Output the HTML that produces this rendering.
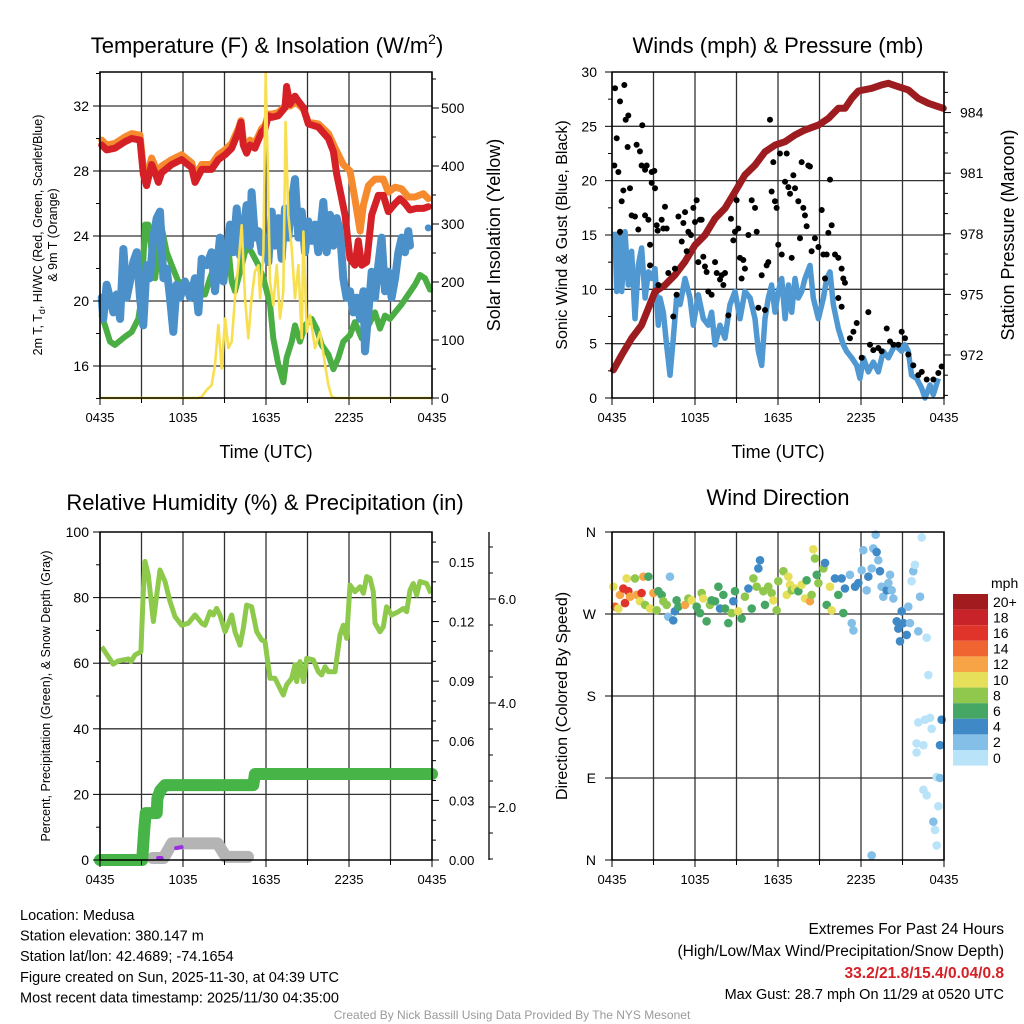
<!DOCTYPE html>
<html><head><meta charset="utf-8">
<style>
html,body{margin:0;padding:0;background:#fff;}
svg{display:block;font-family:"Liberation Sans",Arial,sans-serif;}
</style></head>
<body>
<svg id="root" width="1024" height="1024" viewBox="0 0 1024 1024" xmlns="http://www.w3.org/2000/svg">
<g id="layer"></g>
</svg>
<script>
// ---------- Panel 1 data ----------
const redHours=[0.12,0.48,1.08,1.81,2.29,2.89,3.13,3.37,3.73,3.98,4.22,4.46,5.18,5.90,6.63,6.87,7.35,8.07,8.55,9.04,9.52,10.0,10.19,10.36,10.60,10.84,11.20,11.69,11.93,12.17,12.41,12.89,13.37,13.49,13.73,14.10,14.34,14.70,15.06,15.78,16.51,16.87,17.11,17.47,17.71,18.07,18.43,18.67,18.92,19.28,19.64,20.12,20.48,20.84,21.33,21.69,22.05,22.41,22.89,23.37,23.73];
const redTemps=[29.6,29.3,29.4,29.8,30.0,29.9,27.8,27.1,28.4,27.9,27.3,27.9,28.4,28.7,28.2,27.3,28.1,28.1,28.7,29.0,29.4,30.4,31.0,29.6,29.1,29.6,29.4,30.4,30.6,31.4,31.3,31.4,31.9,33.2,32.1,32.6,32.3,31.9,30.9,30.7,30.0,29.2,27.8,26.3,25.3,22.6,22.2,23.7,22.2,22.4,25.3,26.5,26.5,25.5,26.0,26.3,26.0,25.6,25.7,25.7,25.8];
const orangeHours=[0.12,0.48,1.08,1.81,2.29,2.89,3.13,3.37,3.73,3.98,4.22,4.46,5.18,5.90,6.63,6.87,7.35,8.07,8.55,9.04,9.52,10.0,10.19,10.36,10.60,10.84,11.20,11.69,11.93,12.17,12.41,12.89,13.37,13.73,14.10,14.34,14.70,15.06,15.78,16.51,17.0,17.59,18.07,18.43,18.80,19.04,19.40,19.88,20.48,20.84,21.33,21.81,22.29,22.77,23.37,23.73];
const orangeTemps=[29.9,29.6,29.7,30.1,30.3,30.2,28.2,27.6,28.8,28.3,27.8,28.3,28.7,29.0,28.5,27.7,28.4,28.4,29.0,29.3,29.7,30.6,31.1,29.9,29.4,29.9,29.7,30.6,30.8,31.5,31.5,31.6,32.0,32.0,32.2,32.1,31.8,31.0,30.9,30.3,29.4,28.4,28.0,26.3,24.3,25.9,27.1,27.5,27.5,26.7,27.0,26.9,26.4,26.4,26.6,26.3];
const dewHours=[0.12,0.36,0.72,1.08,1.81,2.29,2.77,3.01,3.25,3.49,3.73,3.98,4.22,4.46,4.82,5.18,5.66,6.39,7.11,7.59,7.95,8.31,8.80,9.28,9.52,9.76,10.24,10.60,10.96,11.45,11.81,12.05,12.29,12.53,12.89,13.25,13.49,13.86,14.10,14.46,14.82,15.30,15.66,16.02,16.51,16.87,17.23,17.59,18.07,18.43,18.92,19.40,19.88,20.24,20.60,20.96,21.33,21.81,22.29,22.77,23.13,23.49,23.86];
const dewTemps=[19.1,18.5,17.5,17.3,17.8,18.1,18.9,20.2,24.7,24.7,23.0,21.4,23.0,24.5,23.0,22.2,21.2,21.0,20.4,20.4,21.4,22.2,22.6,23.2,21.2,20.6,22.2,23.4,23.0,22.2,21.4,20.6,19.8,17.7,16.1,15.0,16.5,17.5,18.5,17.5,18.5,18.9,18.3,17.3,16.7,15.8,16.5,17.5,17.9,18.7,17.7,18.5,19.3,18.3,19.1,18.9,19.3,19.8,20.4,21.0,21.6,21.4,20.7];
const chillHours=[0.12,0.24,0.48,0.72,0.96,1.2,1.45,1.69,1.93,2.17,2.41,2.65,2.89,3.13,3.37,3.61,3.86,4.10,4.34,4.58,4.82,5.06,5.30,5.54,5.78,6.14,6.51,6.87,7.11,7.35,7.71,8.07,8.31,8.67,8.92,9.16,9.40,9.64,9.88,10.12,10.36,10.60,10.84,10.96,11.20,11.45,11.69,11.93,12.17,12.41,12.65,12.89,13.13,13.37,13.61,13.86,14.10,14.34,14.58,14.82,15.06,15.30,15.54,15.78,16.14,16.39,16.63,16.87,17.11,17.35,17.59,17.83,18.07,18.31,18.55,18.80,19.04,19.16,19.40,19.64,19.88,20.12,20.36,20.60,20.84,21.08,21.33,21.57,21.81,22.05,22.29,22.41,22.6,23.73];
const chillTemps=[20.2,18.9,21.0,20.2,19.3,20.4,18.9,23.2,20.2,21.2,22.4,23.0,20.2,18.5,22.2,21.4,23.9,25.1,25.5,21.4,22.0,20.2,18.1,21.0,20.2,21.2,20.2,21.4,19.3,22.6,22.2,23.0,20.6,23.9,21.2,23.0,24.7,23.0,25.7,22.8,24.3,25.9,23.4,26.7,23.9,24.3,23.0,23.9,22.4,25.5,23.4,25.1,22.6,25.7,23.9,26.1,27.5,23.9,25.5,23.0,24.9,23.7,24.7,23.0,26.1,23.0,25.3,23.4,25.1,24.3,21.4,20.2,20.6,19.3,20.2,18.9,20.6,16.9,19.3,21.8,20.2,22.2,23.9,20.6,21.8,20.2,21.4,23.0,23.9,23.0,24.3,23.4,null,24.5];
const solarHours=[0,7.11,7.35,7.71,8.07,8.31,8.55,8.80,9.04,9.28,9.52,9.76,10.0,10.24,10.48,10.72,10.96,11.20,11.45,11.57,11.81,11.98,12.12,12.29,12.53,12.77,13.01,13.25,13.42,13.61,13.86,14.10,14.34,14.58,14.70,14.94,15.18,15.54,15.90,16.27,16.51,16.75,16.99,24];
const solarValues=[0,0,2,14,22,57,126,51,137,86,97,172,229,298,172,103,172,218,229,172,252,560,402,201,160,229,137,183,476,316,258,172,229,103,287,114,143,86,114,57,22,2,0,0];
const tempTicks=[16,20,24,28,32];
const solarTicks=[0,100,200,300,400,500];
const timeLabels=["0435","1035","1635","2235","0435"];

// ---------- Panel 2 data ----------
const presHours=[0.10,0.70,1.42,2.14,3.11,3.83,4.55,5.28,6.0,6.72,7.45,8.17,8.89,9.61,10.34,11.06,11.78,12.51,13.23,13.95,14.92,15.64,16.36,16.84,17.33,17.81,18.77,19.49,19.98,20.70,21.42,22.14,22.87,23.59,23.95];
const presValues=[971.26,972.0,972.82,973.48,975.13,975.46,975.96,976.62,977.44,977.94,978.76,979.26,980.08,980.91,981.4,982.06,982.39,982.56,982.89,983.14,983.38,983.71,984.21,984.21,984.7,985.07,985.2,985.37,985.45,985.28,985.12,984.7,984.46,984.29,984.21];
const windHours=[0.22,0.34,0.58,0.70,0.94,1.18,1.42,1.66,1.90,2.14,2.39,2.63,2.87,3.11,3.35,3.47,3.71,3.95,4.19,4.43,4.67,4.92,5.28,5.64,5.88,6.24,6.60,6.96,7.20,7.45,7.81,8.17,8.53,8.89,9.25,9.61,9.98,10.34,10.58,10.82,11.06,11.30,11.54,11.78,12.02,12.27,12.51,12.75,12.99,13.23,13.47,13.71,13.95,14.31,14.55,14.92,15.28,15.52,15.76,16.00,16.36,16.72,16.96,17.33,17.69,17.93,18.17,18.53,18.89,19.25,19.61,19.98,20.46,20.94,21.18,21.42,21.66,22.02,22.39,22.63,22.99,23.23,23.59];
const windValues=[15.3,9.8,14.7,9.8,15.3,10.4,13.5,7.3,12.2,13.8,9.2,11.6,11.0,11.9,6.7,9.2,7.9,4.9,2.1,5.5,9.2,8.6,11.0,9.2,6.7,9.5,7.3,6.7,7.9,4.9,6.7,5.5,8.6,9.8,7.3,9.8,9.2,7.3,4.3,3.0,7.3,9.2,10.4,7.9,9.8,11.0,7.3,10.4,7.9,11.0,9.2,9.8,11.0,12.2,9.2,7.3,9.2,11.0,11.6,8.6,6.4,4.9,4.3,3.7,3.0,1.8,3.7,2.4,3.3,2.4,4.3,3.7,4.9,4.3,4.9,4.3,2.1,1.8,0.9,0.0,1.2,0.3,1.8];
const gustHours=[0.22,0.34,0.17,0.46,0.58,0.89,0.99,1.18,1.13,0.82,1.30,0.70,0.58,1.42,1.66,1.78,1.90,2.02,2.14,2.19,2.39,2.51,2.75,2.39,2.63,2.87,3.06,2.87,3.11,2.75,3.23,3.30,3.35,3.59,3.71,3.83,3.95,4.07,4.43,4.55,4.67,4.80,5.04,5.16,5.28,5.40,5.52,5.71,5.88,6.0,6.12,6.24,6.36,6.48,6.60,6.72,6.84,6.96,7.20,7.45,7.57,7.81,7.93,8.05,8.17,8.41,8.60,8.77,8.89,9.01,9.13,9.25,9.37,9.49,9.61,9.86,10.10,10.34,10.46,10.58,10.82,11.06,11.18,11.30,11.42,11.54,11.66,11.78,11.90,12.02,12.14,12.27,12.51,12.63,12.75,12.87,12.99,13.11,13.23,13.47,13.59,13.71,13.83,13.95,14.07,14.19,14.31,14.43,14.67,14.92,15.16,15.28,15.40,15.52,15.64,15.76,15.88,16.12,16.36,16.60,16.72,16.84,16.36,16.60,17.20,17.45,17.69,18.05,18.53,18.65,18.89,19.25,19.49,19.86,20.10,20.34,20.70,20.94,21.18,21.42,21.78,22.14,22.39,22.75,23.23,23.59,23.83];
const gustValues=[28.5,23.9,21.4,20.8,27.3,28.8,25.6,26.0,23.1,19.1,19.3,18.1,15.3,16.8,16.7,23.3,15.5,22.7,21.4,25.1,21.0,21.4,12.2,16.8,16.4,20.8,20.9,19.8,19.3,14.1,15.9,15.4,10.4,16.4,15.6,17.6,15.6,11.5,7.5,11.9,9.5,16.7,14.4,16.1,17.1,13.5,15.3,15.0,17.5,16.2,18.2,12.5,16.4,16.4,13.0,12.1,11.6,9.8,9.5,12.5,11.5,10.9,11.3,10.4,11.5,7.6,16.5,14.5,15.3,18.2,15.6,12.9,11.0,12.7,11.9,15.0,18.2,17.5,15.3,8.3,11.3,8.1,12.2,12.5,25.6,19.0,21.7,18.1,17.5,14.1,22.5,13.2,19.9,22.5,19.4,18.8,12.9,20.5,19.3,18.1,14.7,21.7,17.5,16.8,15.8,21.4,21.3,13.5,14.7,13.9,17.3,13.2,11.0,13.2,15.2,20.1,15.9,13.2,12.9,11.9,11.0,10.6,9.2,8.4,5.5,6.1,6.9,3.7,7.9,4.9,4.4,4.6,4.3,6.4,5.2,4.9,4.9,6.1,5.5,4.0,3.0,2.1,2.4,1.7,1.7,2.3,2.9];
const windTicks=[0,5,10,15,20,25,30];
const presTicks=[972,975,978,981,984];

// ---------- Panel 3 data ----------
const rhHours=[0.12,0.60,0.96,1.33,2.05,2.24,2.53,2.96,3.13,3.25,3.49,3.86,4.10,4.34,4.70,5.06,5.42,5.90,6.39,6.87,7.35,7.59,7.95,8.19,8.43,8.67,9.04,9.52,9.76,10.12,10.36,10.60,10.96,11.33,11.69,11.93,12.29,12.65,13.01,13.25,13.49,13.86,14.10,14.22,14.46,14.70,14.94,15.42,15.78,16.02,16.27,16.51,16.99,17.35,17.59,17.83,18.07,18.43,18.80,19.04,19.28,19.52,19.76,19.88,20.24,20.48,20.72,21.08,21.57,21.93,22.17,22.41,22.65,22.89,23.13,23.61,23.93];
const rhValues=[65.0,62.0,59.7,60.7,61.3,60.5,62.5,63.5,81.8,91.0,86.9,72.7,80.8,88.4,84.9,78.8,74.2,71.6,72.2,74.7,72.2,71.6,75.7,74.7,76.7,74.7,69.6,74.7,69.6,65.5,70.6,77.7,77.2,69.6,67.1,66.6,55.4,55.4,52.3,50.3,53.4,55.4,59.5,54.4,60.5,54.4,61.5,61.0,57.4,56.4,58.9,57.4,57.4,68.6,71.6,67.6,83.8,81.8,83.3,81.3,86.4,85.9,81.8,72.2,69.6,71.1,77.2,74.7,75.7,76.7,75.7,82.3,84.3,80.8,84.9,84.3,81.3];
const precipHours=[0,3.05,3.13,3.2,3.3,4.1,4.15,4.35,4.7,11.08,11.2,24];
const precipValues=[0,0,0.0084,0.0156,0.0236,0.0236,0.031,0.035,0.0377,0.0377,0.0433,0.0433];
const snowHours=[3.8,4.6,5.2,8.5,9.1,9.6,10.7];
const snowValues=[1.02,1.02,1.3,1.3,1.04,1.04,1.04];
const purpleHours=[4.2,4.45,5.5,5.9];
const purpleValues=[0.001,0.001,0.006,0.0065];
const rhTicks=[0,20,40,60,80,100];
const precipTicks=[0.00,0.03,0.06,0.09,0.12,0.15];
const snowTicks=[2.0,4.0,6.0];

// ---------- Panel 4 data ----------
const dirHours=[0.22,0.10,0.46,0.58,0.82,0.94,1.06,1.18,1.30,1.66,1.78,2.02,2.14,2.27,2.63,2.39,2.75,2.99,3.23,3.35,3.59,3.71,3.95,4.07,4.19,4.43,4.55,4.67,4.80,5.28,5.52,5.76,6.12,6.36,6.48,6.60,6.84,7.08,7.20,7.45,7.69,7.81,8.05,8.17,8.41,8.65,8.77,8.89,9.13,9.37,9.61,9.86,10.10,10.22,10.46,10.58,10.70,10.94,11.06,11.30,11.54,11.66,11.90,12.02,12.39,12.63,12.75,12.87,12.99,13.23,13.47,13.71,13.95,14.07,14.31,14.43,14.55,14.67,14.80,14.92,15.28,15.40,15.52,15.76,15.88,16.12,16.36,16.60,16.72,16.84,17.20,17.33,17.45,17.57,17.81,18.05,18.17,18.41,18.53,18.77,18.89,19.06,19.13,19.25,19.37,19.49,19.61,19.86,19.98,20.10,20.22,20.34,20.58,20.70,20.82,20.94,21.06,21.30,21.42,21.54,21.66,21.78,21.90,22.14,22.27,22.39,22.75,22.87,22.14,22.63,22.99,23.11,23.83,22.02,22.51,22.02,23.71,23.47,23.71,22.51,22.75,23.59,23.23,23.35,23.47,18.77];
const dirValues=[278,300,276,291,298,282,309,295,289,309,291,284,293,311,311,280,276,293,274,295,291,284,280,267,311,263,273,285,278,280,287,285,278,271,293,287,262,280,285,284,300,276,291,276,260,271,284,295,273,265,289,298,276,309,300,320,329,295,280,300,293,285,274,306,317,291,311,302,296,298,295,302,287,307,284,291,341,331,313,304,320,326,280,300,274,309,291,309,271,298,313,260,252,300,304,318,340,296,311,320,342,357,338,329,317,300,289,296,304,313,296,287,262,254,240,273,260,247,278,260,306,317,324,251,289,354,244,203,151,154,156,144,154,128,126,118,126,91,90,77,71,59,42,33,16,5];
const dirSpeeds=[14,10,10,12,16,16,10,16,12,8,12,10,16,12,6,8,10,12,8,6,6,8,8,2,2,4,4,6,6,12,8,10,6,6,8,10,6,8,6,6,6,4,6,6,6,8,4,6,10,6,8,4,6,8,8,4,4,8,6,8,8,10,8,8,8,10,10,10,8,10,6,10,10,6,12,8,10,8,6,8,8,4,6,10,10,4,6,4,6,4,2,2,2,4,4,2,2,2,4,2,2,2,4,2,4,2,2,4,2,2,2,2,4,4,4,4,4,4,2,2,0,2,0,2,2,0,0,0,0,0,0,0,4,0,0,0,4,0,2,0,0,0,2,0,0,2];
const dirTickLabels=["N","W","S","E","N"];
const dirTickValues=[360,270,180,90,0];
const speedBins=["20+","18","16","14","12","10","8","6","4","2","0"];
const speedColors=["#a11b1f","#c9232a","#e0342b","#ef6430","#f6a446","#e6df5a","#8fc84c","#46a764","#3f89c6","#84bfe7","#b9e3f8"];

// ---------- helpers ----------
const NS="http://www.w3.org/2000/svg";
const root=document.getElementById('layer');
function mk(tag,attrs,parent){const e=document.createElementNS(NS,tag);for(const k in attrs)e.setAttribute(k,attrs[k]);(parent||root).appendChild(e);return e;}
function txt(s,x,y,size,anchor,parent,extra){const e=mk('text',Object.assign({x:x,y:y,'font-size':size,'text-anchor':anchor||'middle',fill:'#000'},extra||{}),parent);e.textContent=s;return e;}
function pathFrom(hs,vs,xf,yf){let d='',pen=false;for(let i=0;i<hs.length;i++){if(vs[i]===null||vs[i]===undefined){pen=false;continue;}d+=(pen?'L':'M')+xf(hs[i]).toFixed(1)+' '+yf(vs[i]).toFixed(1);pen=true;}return d;}

function frame(x0,y0,x1,y1,name){
  const g=mk('g',{});
  
  
  for(let i=0;i<=8;i++){const x=x0+(x1-x0)*i/8;mk('line',{x1:x,y1:y0,x2:x,y2:y1,stroke:'#333','stroke-width':1.3},g);}
  return g;
}
function hgrid(g,x0,x1,ys){ys.forEach(y=>mk('line',{x1:x0,y1:y,x2:x1,y2:y,stroke:'#333','stroke-width':1.3},g));}
function border(x0,y0,x1,y1){const r=mk('rect',{x:x0,y:y0,width:x1-x0,height:y1-y0,fill:'none',stroke:'#000','stroke-width':1.5});return r;}
function xAxis(x0,x1,yb,name){
  const g=mk('g',{});
  
  
  for(let i=0;i<=8;i++){const x=x0+(x1-x0)*i/8;mk('line',{x1:x,y1:yb,x2:x,y2:yb+(i%2==0?7:5),stroke:'#000','stroke-width':1},g);}
  timeLabels.forEach((l,i)=>{txt(l,x0+(x1-x0)*i/4,yb+24,13,'middle',g);});
  return g;
}

// ---------- Panel 1 ----------
const P1={x0:100,x1:432,y0:72,y1:398};
const x1s=h=>P1.x0+h*(P1.x1-P1.x0)/24;
const yT=t=>398-(t-14.03)*16.25;
const yI=i=>398-i*0.58;
{
  const g=frame(P1.x0,P1.y0,P1.x1,P1.y1,'temperature-grid');
  hgrid(g,P1.x0,P1.x1,tempTicks.map(yT));
  const ser=[[orangeHours,orangeTemps,'#f58a2e',7,'orange-9m-temp-line'],[redHours,redTemps,'#d42026',7,'red-2m-temp-line'],[dewHours,dewTemps,'#4aae44',6,'green-dewpoint-line'],[chillHours,chillTemps,'#4b90c9',8,'blue-windchill-line']];
  ser.forEach(s=>{const p=mk('path',{d:pathFrom(s[0],s[1],x1s,yT),fill:'none',stroke:s[2],'stroke-width':s[3],'stroke-linejoin':'round','stroke-linecap':'round'});
    
    });
  mk('circle',{cx:x1s(chillHours[chillHours.length-1]),cy:yT(chillTemps[chillTemps.length-1]),r:3.5,fill:'#4b90c9'});
  const sp=mk('path',{d:pathFrom(solarHours,solarValues,x1s,yI),fill:'none',stroke:'#f8df4f','stroke-width':2.6,'stroke-linejoin':'round'});
  
  
  border(P1.x0,P1.y0,P1.x1,P1.y1);
  xAxis(P1.x0,P1.x1,P1.y1,'temperature-x-axis');
  const ya=mk('g',{});
  
  
  for(let t=14;t<=34;t+=2){mk('line',{x1:P1.x0-(t%4==0?7:4),y1:yT(t),x2:P1.x0,y2:yT(t),stroke:'#000'},ya);}
  tempTicks.forEach(t=>txt(String(t),89,yT(t)+5,14,'end',ya));
  const yb=mk('g',{});
  
  
  for(let i=0;i<=550;i+=50){mk('line',{x1:P1.x1,y1:yI(i),x2:P1.x1+(i%100==0?7:4),y2:yI(i),stroke:'#000'},yb);}
  solarTicks.forEach(i=>txt(String(i),441,yI(i)+5,14,'start',yb));
  const tt=mk('text',{x:267,y:53,'font-size':22,'text-anchor':'middle'});
  
  
  tt.innerHTML='Temperature (F) &amp; Insolation (W/m<tspan dy="-9" font-size="14">2</tspan><tspan dy="9">)</tspan>';
  const xl=txt('Time (UTC)',266,458,18,'middle');
  
  
  const yl=mk('text',{transform:'translate(42,235) rotate(-90)','font-size':12.5,'text-anchor':'middle'});
  
  
  yl.innerHTML='2m T, T<tspan dy="3" font-size="9">d</tspan><tspan dy="-3">, HI/WC (Red, Green, Scarlet/Blue)</tspan>';
  const yl2=mk('text',{transform:'translate(57,235) rotate(-90)','font-size':12.5,'text-anchor':'middle'});
  yl2.textContent='& 9m T (Orange)';
  
  
  const yr=mk('text',{transform:'translate(500,235) rotate(-90)','font-size':18,'text-anchor':'middle'});
  yr.textContent='Solar Insolation (Yellow)';
  
  
}

// ---------- Panel 2 ----------
const P2={x0:612,x1:944,y0:72,y1:398};
const x2s=h=>P2.x0+h*(P2.x1-P2.x0)/24;
const yW=w=>398-w*10.867;
const yP=p=>398-(p-969.87)*20.2;
{
  const g=frame(P2.x0,P2.y0,P2.x1,P2.y1,'winds-grid');
  hgrid(g,P2.x0,P2.x1,windTicks.slice(1,6).map(yW));
  const wl=mk('path',{d:pathFrom(windHours,windValues,x2s,yW),fill:'none',stroke:'#4f98d2','stroke-width':5.5,'stroke-linejoin':'round'});
  
  
  const pl=mk('path',{d:pathFrom(presHours,presValues,x2s,yP),fill:'none',stroke:'#9c1c1f','stroke-width':7,'stroke-linejoin':'round','stroke-linecap':'round'});
  
  
  const gg=mk('g',{});
  
  
  gustHours.forEach((h,i)=>{const c=mk('circle',{cx:x2s(h),cy:yW(gustValues[i]),r:3,fill:'#000'},gg);
    
    });
  border(P2.x0,P2.y0,P2.x1,P2.y1);
  xAxis(P2.x0,P2.x1,P2.y1,'winds-x-axis');
  const ya=mk('g',{});
  
  
  for(let w=0;w<=30;w+=2.5){mk('line',{x1:P2.x0-(w%5==0?7:4),y1:yW(w),x2:P2.x0,y2:yW(w),stroke:'#000'},ya);}
  windTicks.forEach(w=>txt(String(w),597,yW(w)+5,14,'end',ya));
  const yb=mk('g',{});
  
  
  for(let p=970;p<=986;p+=1){mk('line',{x1:P2.x1,y1:yP(p),x2:P2.x1+((p%3==0)?7:4),y2:yP(p),stroke:'#000'},yb);}
  presTicks.forEach(p=>txt(String(p),960,yP(p)+5,14,'start',yb));
  const tt=txt('Winds (mph) & Pressure (mb)',778,53,22,'middle');
  
  
  const xl=txt('Time (UTC)',778,458,18,'middle');
  
  
  const yl=mk('text',{transform:'translate(567,235) rotate(-90)','font-size':16,'text-anchor':'middle'});
  yl.textContent='Sonic Wind & Gust (Blue, Black)';
  
  
  const yr=mk('text',{transform:'translate(1014,235) rotate(-90)','font-size':18,'text-anchor':'middle'});
  yr.textContent='Station Pressure (Maroon)';
  
  
}

// ---------- Panel 3 ----------
const P3={x0:100,x1:432,y0:532,y1:860};
const x3s=h=>P3.x0+h*(P3.x1-P3.x0)/24;
const yR=r=>860-r*3.28;
const yPr=p=>860-p*1987;
const ySn=s=>911-s*52;
{
  const g=frame(P3.x0,P3.y0,P3.x1,P3.y1,'humidity-grid');
  hgrid(g,P3.x0,P3.x1,rhTicks.slice(1,5).map(yR));
  const rl=mk('path',{d:pathFrom(rhHours,rhValues,x3s,yR),fill:'none',stroke:'#8dc94b','stroke-width':5,'stroke-linejoin':'round'});
  
  
  const sl=mk('path',{d:pathFrom(snowHours,snowValues,x3s,ySn),fill:'none',stroke:'#b4b4b4','stroke-width':12,'stroke-linejoin':'round','stroke-linecap':'round'});
  
  
  const pr=mk('path',{d:pathFrom(precipHours,precipValues,x3s,yPr),fill:'none',stroke:'#46b446','stroke-width':12,'stroke-linejoin':'round','stroke-linecap':'round'});
  
  
  const pu1=mk('path',{d:pathFrom(purpleHours.slice(0,2),purpleValues.slice(0,2),x3s,yPr)+pathFrom(purpleHours.slice(2),purpleValues.slice(2),x3s,yPr),fill:'none',stroke:'#9a2fe0','stroke-width':4,'stroke-linecap':'round'});
  
  
  border(P3.x0,P3.y0,P3.x1,P3.y1);
  xAxis(P3.x0,P3.x1,P3.y1,'humidity-x-axis');
  const ya=mk('g',{});
  
  
  for(let r=0;r<=100;r+=10){mk('line',{x1:P3.x0-(r%20==0?7:4),y1:yR(r),x2:P3.x0,y2:yR(r),stroke:'#000'},ya);}
  rhTicks.forEach(r=>txt(String(r),89,yR(r)+5,14,'end',ya));
  const yb=mk('g',{});
  
  
  for(let k=0;k<=16;k++){const p=k*0.01;mk('line',{x1:P3.x1,y1:yPr(p),x2:P3.x1+(k%3==0?7:4),y2:yPr(p),stroke:'#000'},yb);}
  precipTicks.forEach(p=>txt(p.toFixed(2),449,yPr(p)+5,13,'start',yb));
  const yc=mk('g',{});
  
  
  mk('line',{x1:489,y1:532,x2:489,y2:860,stroke:'#000','stroke-width':1.3},yc);
  for(let s=1.0;s<=7.0;s+=0.5){if(ySn(s)<532||ySn(s)>860)continue;mk('line',{x1:489,y1:ySn(s),x2:489+(s%2==0?7:4),y2:ySn(s),stroke:'#000'},yc);}
  snowTicks.forEach(s=>txt(s.toFixed(1),498,ySn(s)+5,13,'start',yc));
  const tt=txt('Relative Humidity (%) & Precipitation (in)',265,510,22,'middle');
  
  
  const yl=mk('text',{transform:'translate(50,696) rotate(-90)','font-size':12.5,'text-anchor':'middle'});
  yl.textContent='Percent, Precipitation (Green), & Snow Depth (Gray)';
  
  
}

// ---------- Panel 4 ----------
const P4={x0:612,x1:944,y0:532,y1:860};
const x4s=h=>P4.x0+h*(P4.x1-P4.x0)/24;
const yD=d=>860-d*328/360;
function speedColor(s){if(s===undefined||s===null||isNaN(s))s=0;const idx=Math.max(0,Math.min(10,10-Math.floor(s/2)));return speedColors[idx];}
{
  const g=frame(P4.x0,P4.y0,P4.x1,P4.y1,'direction-grid');
  hgrid(g,P4.x0,P4.x1,[270,180,90].map(yD));
  const dg=mk('g',{});
  
  
  dirHours.forEach((h,i)=>{const c=mk('circle',{cx:x4s(h),cy:yD(dirValues[i]),r:4.3,fill:speedColor(dirSpeeds[i])},dg);
    
    });
  border(P4.x0,P4.y0,P4.x1,P4.y1);
  xAxis(P4.x0,P4.x1,P4.y1,'direction-x-axis');
  const ya=mk('g',{});
  
  
  dirTickValues.forEach((d,i)=>{mk('line',{x1:P4.x0-7,y1:yD(d),x2:P4.x0,y2:yD(d),stroke:'#000'},ya);txt(dirTickLabels[i],596,yD(d)+5,14,'end',ya);});
  const tt=txt('Wind Direction',778,505,22,'middle');
  
  
  const yl=mk('text',{transform:'translate(567,696) rotate(-90)','font-size':16,'text-anchor':'middle'});
  yl.textContent='Direction (Colored By Speed)';
  
  
  const cb=mk('g',{});
  
  
  txt('mph',991,588,14,'start',cb);
  const bh=15.6;
  speedBins.forEach((l,i)=>{const r=mk('rect',{x:953,y:594+i*bh,width:35,height:bh,fill:speedColors[i]},cb);
    
    
    txt(l,993,594+i*bh+bh/2+5,14,'start',cb);});
}

// ---------- Footer ----------
{
  const f=mk('g',{});
  
  
  ["Location: Medusa","Station elevation: 380.147 m","Station lat/lon: 42.4689; -74.1654","Figure created on Sun, 2025-11-30, at 04:39 UTC","Most recent data timestamp: 2025/11/30 04:35:00"].forEach((s,i)=>txt(s,20,920+i*20.6,14.5,'start',f));
  const r=mk('g',{});
  
  
  txt('Extremes For Past 24 Hours',1004,934,15.5,'end',r);
  txt('(High/Low/Max Wind/Precipitation/Snow Depth)',1004,956,15.5,'end',r);
  txt('33.2/21.8/15.4/0.04/0.8',1004,978,15.5,'end',r,{fill:'#d42026','font-weight':'bold'});
  txt('Max Gust: 28.7 mph On 11/29 at 0520 UTC',1004,999,14.5,'end',r);
  const c=txt('Created By Nick Bassill Using Data Provided By The NYS Mesonet',512,1019,12,'middle',null,{fill:'#9a9a9a'});
  
  
}
</script>
</body></html>
